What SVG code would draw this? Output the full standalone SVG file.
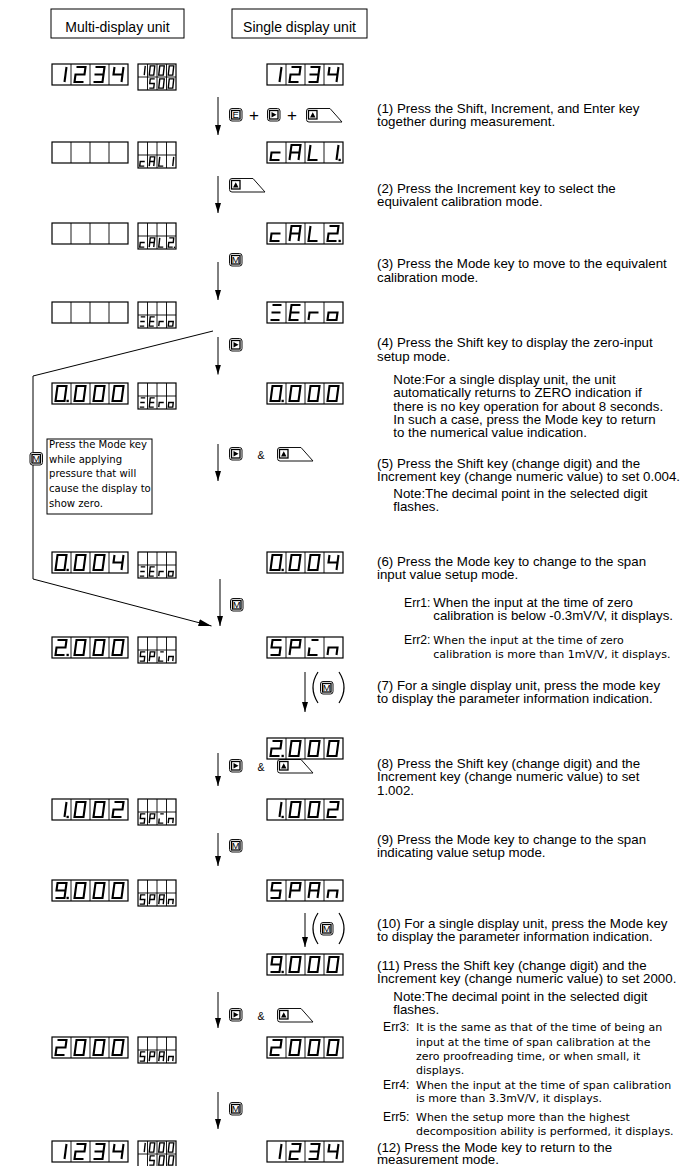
<svg xmlns="http://www.w3.org/2000/svg" width="700" height="1166" viewBox="0 0 700 1166">
<style>
.dsp{fill:#fff;stroke:#000;stroke-width:1.2}
.div{fill:none;stroke:#000;stroke-width:.9}
.big{stroke:#000;stroke-width:2.1;fill:none}
.sm{stroke:#000;stroke-width:1.4;fill:none}
.gl{fill:none;vector-effect:non-scaling-stroke;stroke-linejoin:miter}
.dp{fill:#000}
.t{font-family:"Liberation Sans",Arial,sans-serif;font-size:13.3px;fill:#000}
.e{font-family:"Liberation Sans",Arial,sans-serif;font-size:12.2px;fill:#000}
.h{font-family:"Liberation Sans",Arial,sans-serif;font-size:14px;text-anchor:middle}
.gt{font-family:"DejaVu Sans",sans-serif;font-size:11px}
.nb{font-family:"DejaVu Sans",sans-serif;font-size:10.1px}
.kout{fill:#fff;stroke:#111;stroke-width:1}
.kin{fill:#fff;stroke:#000;stroke-width:1.3}
.kt{font-family:"Liberation Sans",Arial,sans-serif;font-size:9.5px;text-anchor:middle}
.pl{font-family:"Liberation Sans",Arial,sans-serif;font-size:17px;text-anchor:middle}
.amp{font-family:"Liberation Sans",Arial,sans-serif;font-size:10.5px}
.ln{fill:none;stroke:#000;stroke-width:1}
.box{fill:#fff;stroke:#000;stroke-width:1}
.par{fill:none;stroke:#000;stroke-width:1.2}
</style>
<defs>
<marker id="ah" markerUnits="userSpaceOnUse" markerWidth="10" markerHeight="6" refX="10" refY="3" orient="auto" viewBox="0 0 10 6"><path d="M0,0L10,3L0,6Z"/></marker>
<marker id="ah2" markerUnits="userSpaceOnUse" markerWidth="13" markerHeight="7" refX="13" refY="3.5" orient="auto" viewBox="0 0 13 7"><path d="M0,0L13,3.5L0,7Z"/></marker>
<path id="g0" class="gl" d="M5.5,3H14.5L12.5,18H3.5Z"/>
<path id="g1" class="gl" d="M14.5,3L12.5,18"/>
<path id="g2" class="gl" d="M5.5,3H14.5L13.5,10.5H4.5L3.5,18H12.5"/>
<path id="g3" class="gl" d="M5.5,3H14.5L12.5,18H3.5M4.5,10.5H13.5"/>
<path id="g4" class="gl" d="M5.5,3L4.5,10.5H13.5M14.5,3L12.5,18"/>
<path id="g5" class="gl" d="M14.5,3H5.5L4.5,10.5H13.5L12.5,18H3.5"/>
<path id="g9" class="gl" d="M13.5,10.5H4.5L5.5,3H14.5L12.5,18H3.5"/>
<path id="gc" class="gl" d="M13.5,10.5H4.5L3.5,18H12.5"/>
<path id="gA" class="gl" d="M3.5,18L5.5,3H14.5L12.5,18M4.5,10.5H13.5"/>
<path id="gL" class="gl" d="M5.5,3L3.5,18H12.5"/>
<path id="gE" class="gl" d="M14.5,3H5.5L3.5,18H12.5M4.5,10.5H13.5"/>
<path id="gr" class="gl" d="M3.5,18L4.5,10.5H13.5"/>
<path id="go" class="gl" d="M4.5,10.5H13.5L12.5,18H3.5Z"/>
<path id="gP" class="gl" d="M3.5,18L5.5,3H14.5L13.5,10.5H4.5"/>
<path id="gn" class="gl" d="M3.5,18L4.5,10.5H13.5L12.5,18"/>
<path id="gZ" class="gl" d="M5.5,3H14.5M4.5,10.5H13.5M3.5,18H12.5"/>
<path id="gx" class="gl" d="M6.5,3H13.5M4.5,10.5L3.5,18H12.5"/>
<g id="f4"><rect class="dsp" x="0" y="0" width="76" height="21"/><path class="div" d="M19,0V21M38,0V21M57,0V21"/></g>
<g id="fs"><rect class="dsp" x="0" y="0" width="38" height="26"/><path class="div" d="M9.5,0V26M19,0V26M28.5,0V26M0,13H38"/></g>
<g id="key"><rect class="kout" x="0.5" y="0.5" width="12.5" height="12.5" rx="2.5"/><rect class="kin" x="2.5" y="2.5" width="8.5" height="8.5"/></g>
<g id="keyE"><path class="kout" d="M0.5,3Q0.5,0.5 3,0.5H24L36,14H3Q0.5,14 0.5,11.5Z"/><rect class="kin" x="2.5" y="2.5" width="8.5" height="8.5"/><path d="M4,9.5L6.75,4.3L9.5,9.5Z"/></g>
<path id="tR" d="M4.5,4L9.5,6.75L4.5,9.5Z"/>
</defs>

<g id="header-multi"><rect class="box" x="51" y="9" width="133" height="29"/><text class="h" x="117.5" y="32">Multi-display unit</text></g>
<g id="header-single"><rect class="box" x="232" y="9" width="135" height="29"/><text class="h" x="299.5" y="32">Single display unit</text></g>

<g id="connectors">
<path class="ln" marker-end="url(#ah)" d="M218,97V135"/>
<path class="ln" marker-end="url(#ah)" d="M218,176V213"/>
<path class="ln" marker-end="url(#ah)" d="M218,262V300"/>
<path class="ln" marker-end="url(#ah)" d="M218,337V374.5"/>
<path class="ln" marker-end="url(#ah)" d="M218,444V481"/>
<path class="ln" marker-end="url(#ah)" d="M220,579V626"/>
<path class="ln" marker-end="url(#ah)" d="M305,672V712"/>
<path class="ln" marker-end="url(#ah)" d="M218,753V786"/>
<path class="ln" marker-end="url(#ah)" d="M218,833V866"/>
<path class="ln" marker-end="url(#ah)" d="M305,913V947"/>
<path class="ln" marker-end="url(#ah)" d="M218,992V1028"/>
<path class="ln" marker-end="url(#ah)" d="M218,1092V1129"/>
<path class="ln" marker-end="url(#ah2)" d="M213,331L33,376V579L211.5,626"/>
</g>

<g id="key-left-M"><use href="#key" x="29.5" y="452"/><text class="kt" x="36.2" y="462">M</text></g>
<g id="note-box"><rect class="box" x="47" y="439" width="105" height="75"/>
<text class="nb" x="49" y="448">Press the Mode key</text>
<text class="nb" x="49" y="462.7">while applying</text>
<text class="nb" x="49" y="477.3">pressure that will</text>
<text class="nb" x="49" y="492">cause the display to</text>
<text class="nb" x="49" y="506.5">show zero.</text>
</g>

<g id="step1-keys"><use href="#key" x="229" y="108"/><text class="kt" x="235.7" y="118">E</text><text class="pl" x="254" y="120.5">+</text><use href="#key" x="267" y="108"/><use href="#tR" x="267" y="108"/><text class="pl" x="292" y="120.5">+</text><use href="#keyE" x="306" y="108"/></g>
<g id="step2-keys"><use href="#keyE" x="229" y="178"/></g>
<g id="step3-keys"><use href="#key" x="229" y="253"/><text class="kt" x="235.7" y="263">M</text></g>
<g id="step4-keys"><use href="#key" x="229" y="338"/><use href="#tR" x="229" y="338"/></g>
<g id="step5-keys"><use href="#key" x="229" y="447"/><use href="#tR" x="229" y="447"/><text class="amp" x="257.5" y="458.5">&amp;</text><use href="#keyE" x="277" y="447"/></g>
<g id="step6-keys"><use href="#key" x="230" y="598"/><text class="kt" x="236.7" y="608">M</text></g>
<g id="step7-keys"><path class="par" d="M318,672Q308,687.5 318,703"/><use href="#key" x="320" y="681"/><text class="kt" x="326.7" y="691">M</text><path class="par" d="M339,672Q349,687.5 339,703"/></g>
<g id="step8-keys"><use href="#key" x="229" y="759"/><use href="#tR" x="229" y="759"/><text class="amp" x="257.5" y="770.5">&amp;</text><use href="#keyE" x="277" y="759"/></g>
<g id="step9-keys"><use href="#key" x="229" y="839"/><text class="kt" x="235.7" y="849">M</text></g>
<g id="step10-keys"><path class="par" d="M318,913Q308,928.5 318,944"/><use href="#key" x="320" y="922"/><text class="kt" x="326.7" y="932">M</text><path class="par" d="M339,913Q349,928.5 339,944"/></g>
<g id="step11-keys"><use href="#key" x="229" y="1008"/><use href="#tR" x="229" y="1008"/><text class="amp" x="257.5" y="1019.5">&amp;</text><use href="#keyE" x="277" y="1008"/></g>
<g id="step12-keys"><use href="#key" x="229" y="1102"/><text class="kt" x="235.7" y="1112">M</text></g>

<g id="r1-multi" transform="translate(52,64)"><use href="#f4"/><use href="#g1" class="big"/><use href="#g2" x="19" class="big"/><use href="#g3" x="38" class="big"/><use href="#g4" x="57" class="big"/></g>
<g id="r1-sub" transform="translate(138,64)"><use href="#fs"/>
<use href="#g1" class="sm" transform="scale(.5,.62)"/><use href="#g0" class="sm" transform="translate(9.5,0) scale(.5,.62)"/><use href="#g0" class="sm" transform="translate(19,0) scale(.5,.62)"/><use href="#g0" class="sm" transform="translate(28.5,0) scale(.5,.62)"/>
<use href="#g5" class="sm" transform="translate(9.5,13) scale(.5,.62)"/><use href="#g0" class="sm" transform="translate(19,13) scale(.5,.62)"/><use href="#g0" class="sm" transform="translate(28.5,13) scale(.5,.62)"/></g>
<g id="r1-single" transform="translate(267,64)"><use href="#f4"/><use href="#g1" class="big"/><use href="#g2" x="19" class="big"/><use href="#g3" x="38" class="big"/><use href="#g4" x="57" class="big"/></g>

<g id="r2-multi" transform="translate(52,142)"><use href="#f4"/></g>
<g id="r2-sub" transform="translate(138,142)"><use href="#fs"/><use href="#gc" class="sm" transform="translate(0,13) scale(.5,.62)"/><use href="#gA" class="sm" transform="translate(9.5,13) scale(.5,.62)"/><use href="#gL" class="sm" transform="translate(19,13) scale(.5,.62)"/><use href="#g1" class="sm" transform="translate(28.5,13) scale(.5,.62)"/></g>
<g id="r2-single" transform="translate(267,142)"><use href="#f4"/><use href="#gc" class="big"/><use href="#gA" x="19" class="big"/><use href="#gL" x="38" class="big"/><use href="#g1" x="57" class="big"/><rect class="dp" x="71.5" y="16.8" width="2.3" height="2.3"/></g>

<g id="r3-multi" transform="translate(52,223)"><use href="#f4"/></g>
<g id="r3-sub" transform="translate(138,223)"><use href="#fs"/><use href="#gc" class="sm" transform="translate(0,13) scale(.5,.62)"/><use href="#gA" class="sm" transform="translate(9.5,13) scale(.5,.62)"/><use href="#gL" class="sm" transform="translate(19,13) scale(.5,.62)"/><use href="#g2" class="sm" transform="translate(28.5,13) scale(.5,.62)"/><rect class="dp" x="35.8" y="23.6" width="1.4" height="1.4"/></g>
<g id="r3-single" transform="translate(267,223)"><use href="#f4"/><use href="#gc" class="big"/><use href="#gA" x="19" class="big"/><use href="#gL" x="38" class="big"/><use href="#g2" x="57" class="big"/><rect class="dp" x="71.5" y="16.8" width="2.3" height="2.3"/></g>

<g id="r4-multi" transform="translate(52,302)"><use href="#f4"/></g>
<g id="r4-sub" transform="translate(138,302)"><use href="#fs"/><use href="#gZ" class="sm" transform="translate(0,13) scale(.5,.62)"/><use href="#gE" class="sm" transform="translate(9.5,13) scale(.5,.62)"/><use href="#gr" class="sm" transform="translate(19,13) scale(.5,.62)"/><use href="#go" class="sm" transform="translate(28.5,13) scale(.5,.62)"/></g>
<g id="r4-single" transform="translate(267,302)"><use href="#f4"/><use href="#gZ" class="big"/><use href="#gE" x="19" class="big"/><use href="#gr" x="38" class="big"/><use href="#go" x="57" class="big"/></g>

<g id="r5-multi" transform="translate(52,383)"><use href="#f4"/><use href="#g0" class="big"/><rect class="dp" x="14.5" y="16.8" width="2.3" height="2.3"/><use href="#g0" x="19" class="big"/><use href="#g0" x="38" class="big"/><use href="#g0" x="57" class="big"/></g>
<g id="r5-sub" transform="translate(138,383)"><use href="#fs"/><use href="#gZ" class="sm" transform="translate(0,13) scale(.5,.62)"/><use href="#gE" class="sm" transform="translate(9.5,13) scale(.5,.62)"/><use href="#gr" class="sm" transform="translate(19,13) scale(.5,.62)"/><use href="#go" class="sm" transform="translate(28.5,13) scale(.5,.62)"/></g>
<g id="r5-single" transform="translate(267,383)"><use href="#f4"/><use href="#g0" class="big"/><rect class="dp" x="14.5" y="16.8" width="2.3" height="2.3"/><use href="#g0" x="19" class="big"/><use href="#g0" x="38" class="big"/><use href="#g0" x="57" class="big"/></g>

<g id="r6-multi" transform="translate(52,552)"><use href="#f4"/><use href="#g0" class="big"/><rect class="dp" x="14.5" y="16.8" width="2.3" height="2.3"/><use href="#g0" x="19" class="big"/><use href="#g0" x="38" class="big"/><use href="#g4" x="57" class="big"/></g>
<g id="r6-sub" transform="translate(138,552)"><use href="#fs"/><use href="#gZ" class="sm" transform="translate(0,13) scale(.5,.62)"/><use href="#gE" class="sm" transform="translate(9.5,13) scale(.5,.62)"/><use href="#gr" class="sm" transform="translate(19,13) scale(.5,.62)"/><use href="#go" class="sm" transform="translate(28.5,13) scale(.5,.62)"/></g>
<g id="r6-single" transform="translate(267,552)"><use href="#f4"/><use href="#g0" class="big"/><rect class="dp" x="14.5" y="16.8" width="2.3" height="2.3"/><use href="#g0" x="19" class="big"/><use href="#g0" x="38" class="big"/><use href="#g4" x="57" class="big"/></g>

<g id="r7-multi" transform="translate(52,637)"><use href="#f4"/><use href="#g2" class="big"/><rect class="dp" x="14.5" y="16.8" width="2.3" height="2.3"/><use href="#g0" x="19" class="big"/><use href="#g0" x="38" class="big"/><use href="#g0" x="57" class="big"/></g>
<g id="r7-sub" transform="translate(138,637)"><use href="#fs"/><use href="#g5" class="sm" transform="translate(0,13) scale(.5,.62)"/><use href="#gP" class="sm" transform="translate(9.5,13) scale(.5,.62)"/><use href="#gx" class="sm" transform="translate(19,13) scale(.5,.62)"/><use href="#gn" class="sm" transform="translate(28.5,13) scale(.5,.62)"/></g>
<g id="r7-single" transform="translate(267,637)"><use href="#f4"/><use href="#g5" class="big"/><use href="#gP" x="19" class="big"/><use href="#gx" x="38" class="big"/><use href="#gn" x="57" class="big"/></g>
<g id="r7b-single" transform="translate(267,738)"><use href="#f4"/><use href="#g2" class="big"/><rect class="dp" x="14.5" y="16.8" width="2.3" height="2.3"/><use href="#g0" x="19" class="big"/><use href="#g0" x="38" class="big"/><use href="#g0" x="57" class="big"/></g>

<g id="r8-multi" transform="translate(52,799)"><use href="#f4"/><use href="#g1" class="big"/><rect class="dp" x="14.5" y="16.8" width="2.3" height="2.3"/><use href="#g0" x="19" class="big"/><use href="#g0" x="38" class="big"/><use href="#g2" x="57" class="big"/></g>
<g id="r8-sub" transform="translate(138,799)"><use href="#fs"/><use href="#g5" class="sm" transform="translate(0,13) scale(.5,.62)"/><use href="#gP" class="sm" transform="translate(9.5,13) scale(.5,.62)"/><use href="#gx" class="sm" transform="translate(19,13) scale(.5,.62)"/><use href="#gn" class="sm" transform="translate(28.5,13) scale(.5,.62)"/></g>
<g id="r8-single" transform="translate(267,799)"><use href="#f4"/><use href="#g1" class="big"/><rect class="dp" x="14.5" y="16.8" width="2.3" height="2.3"/><use href="#g0" x="19" class="big"/><use href="#g0" x="38" class="big"/><use href="#g2" x="57" class="big"/></g>

<g id="r9-multi" transform="translate(52,880)"><use href="#f4"/><use href="#g9" class="big"/><rect class="dp" x="14.5" y="16.8" width="2.3" height="2.3"/><use href="#g0" x="19" class="big"/><use href="#g0" x="38" class="big"/><use href="#g0" x="57" class="big"/></g>
<g id="r9-sub" transform="translate(138,880)"><use href="#fs"/><use href="#g5" class="sm" transform="translate(0,13) scale(.5,.62)"/><use href="#gP" class="sm" transform="translate(9.5,13) scale(.5,.62)"/><use href="#gA" class="sm" transform="translate(19,13) scale(.5,.62)"/><use href="#gn" class="sm" transform="translate(28.5,13) scale(.5,.62)"/></g>
<g id="r9-single" transform="translate(267,880)"><use href="#f4"/><use href="#g5" class="big"/><use href="#gP" x="19" class="big"/><use href="#gA" x="38" class="big"/><use href="#gn" x="57" class="big"/></g>
<g id="r9b-single" transform="translate(267,954)"><use href="#f4"/><use href="#g9" class="big"/><rect class="dp" x="14.5" y="16.8" width="2.3" height="2.3"/><use href="#g0" x="19" class="big"/><use href="#g0" x="38" class="big"/><use href="#g0" x="57" class="big"/></g>

<g id="r10-multi" transform="translate(52,1037)"><use href="#f4"/><use href="#g2" class="big"/><use href="#g0" x="19" class="big"/><use href="#g0" x="38" class="big"/><use href="#g0" x="57" class="big"/></g>
<g id="r10-sub" transform="translate(138,1037)"><use href="#fs"/><use href="#g5" class="sm" transform="translate(0,13) scale(.5,.62)"/><use href="#gP" class="sm" transform="translate(9.5,13) scale(.5,.62)"/><use href="#gA" class="sm" transform="translate(19,13) scale(.5,.62)"/><use href="#gn" class="sm" transform="translate(28.5,13) scale(.5,.62)"/></g>
<g id="r10-single" transform="translate(267,1037)"><use href="#f4"/><use href="#g2" class="big"/><use href="#g0" x="19" class="big"/><use href="#g0" x="38" class="big"/><use href="#g0" x="57" class="big"/></g>

<g id="r11-multi" transform="translate(52,1141)"><use href="#f4"/><use href="#g1" class="big"/><use href="#g2" x="19" class="big"/><use href="#g3" x="38" class="big"/><use href="#g4" x="57" class="big"/></g>
<g id="r11-sub" transform="translate(138,1141)"><use href="#fs"/>
<use href="#g1" class="sm" transform="scale(.5,.62)"/><use href="#g0" class="sm" transform="translate(9.5,0) scale(.5,.62)"/><use href="#g0" class="sm" transform="translate(19,0) scale(.5,.62)"/><use href="#g0" class="sm" transform="translate(28.5,0) scale(.5,.62)"/>
<use href="#g5" class="sm" transform="translate(9.5,13) scale(.5,.62)"/><use href="#g0" class="sm" transform="translate(19,13) scale(.5,.62)"/><use href="#g0" class="sm" transform="translate(28.5,13) scale(.5,.62)"/></g>
<g id="r11-single" transform="translate(267,1141)"><use href="#f4"/><use href="#g1" class="big"/><use href="#g2" x="19" class="big"/><use href="#g3" x="38" class="big"/><use href="#g4" x="57" class="big"/></g>

<g id="descriptions">
<text class="t" x="377" y="112.7">(1) Press the Shift, Increment, and Enter key</text>
<text class="t" x="377" y="126">together during measurement.</text>
<text class="t" x="377" y="192.7">(2) Press the Increment key to select the</text>
<text class="t" x="377" y="206">equivalent calibration mode.</text>
<text class="t" x="377" y="268.3">(3) Press the Mode key to move to the equivalent</text>
<text class="t" x="377" y="281.6">calibration mode.</text>
<text class="t" x="377" y="347.4">(4) Press the Shift key to display the zero-input</text>
<text class="t" x="377" y="360.7">setup mode.</text>
<text class="t" x="393.3" y="384">Note:For a single display unit, the unit</text>
<text class="t" x="393.3" y="397.3">automatically returns to ZERO indication if</text>
<text class="t" x="393.3" y="410.6">there is no key operation for about 8 seconds.</text>
<text class="t" x="393.3" y="423.9">In such a case, press the Mode key to return</text>
<text class="t" x="393.3" y="437.2">to the numerical value indication.</text>
<text class="t" x="377" y="467.5">(5) Press the Shift key (change digit) and the</text>
<text class="t" x="377" y="480.8">Increment key (change numeric value) to set 0.004.</text>
<text class="t" x="393.3" y="498">Note:The decimal point in the selected digit</text>
<text class="t" x="393.3" y="511">flashes.</text>
<text class="t" x="377" y="566">(6) Press the Mode key to change to the span</text>
<text class="t" x="377" y="579.3">input value setup mode.</text>
<text class="e" x="404" y="606.5">Err1:</text>
<text class="t" x="433.3" y="606.5">When the input at the time of zero</text>
<text class="t" x="433.3" y="620">calibration is below -0.3mV/V, it displays.</text>
<text class="e" x="404" y="644">Err2:</text>
<text class="gt" x="433.3" y="644">When the input at the time of zero</text>
<text class="gt" x="433.3" y="658">calibration is more than 1mV/V, it displays.</text>
<text class="t" x="377" y="689.5">(7) For a single display unit, press the mode key</text>
<text class="t" x="377" y="702.8">to display the parameter information indication.</text>
<text class="t" x="377" y="768">(8) Press the Shift key (change digit) and the</text>
<text class="t" x="377" y="781.3">Increment key (change numeric value) to set</text>
<text class="t" x="377" y="794.6">1.002.</text>
<text class="t" x="377" y="843.5">(9) Press the Mode key to change to the span</text>
<text class="t" x="377" y="856.8">indicating value setup mode.</text>
<text class="t" x="377" y="928">(10) For a single display unit, press the Mode key</text>
<text class="t" x="377" y="941.3">to display the parameter information indication.</text>
<text class="t" x="377" y="970">(11) Press the Shift key (change digit) and the</text>
<text class="t" x="377" y="983.3">Increment key (change numeric value) to set 2000.</text>
<text class="t" x="393.3" y="1000.5">Note:The decimal point in the selected digit</text>
<text class="t" x="393.3" y="1013.8">flashes.</text>
<text class="e" x="383" y="1031">Err3:</text>
<text class="gt" x="416" y="1031">It is the same as that of the time of being an</text>
<text class="gt" x="416" y="1045.5">input at the time of span calibration at the</text>
<text class="gt" x="416" y="1059.5">zero proofreading time, or when small, it</text>
<text class="gt" x="416" y="1073.5">displays.</text>
<text class="e" x="383" y="1089">Err4:</text>
<text class="gt" x="416" y="1089">When the input at the time of span calibration</text>
<text class="gt" x="416" y="1102">is more than 3.3mV/V, it displays.</text>
<text class="e" x="383" y="1121">Err5:</text>
<text class="gt" x="416" y="1121">When the setup more than the highest</text>
<text class="gt" x="416" y="1135">decomposition ability is performed, it displays.</text>
<text class="t" x="377" y="1151.5">(12) Press the Mode key to return to the</text>
<text class="t" x="377" y="1164.3">measurement mode.</text>
</g>
</svg>
